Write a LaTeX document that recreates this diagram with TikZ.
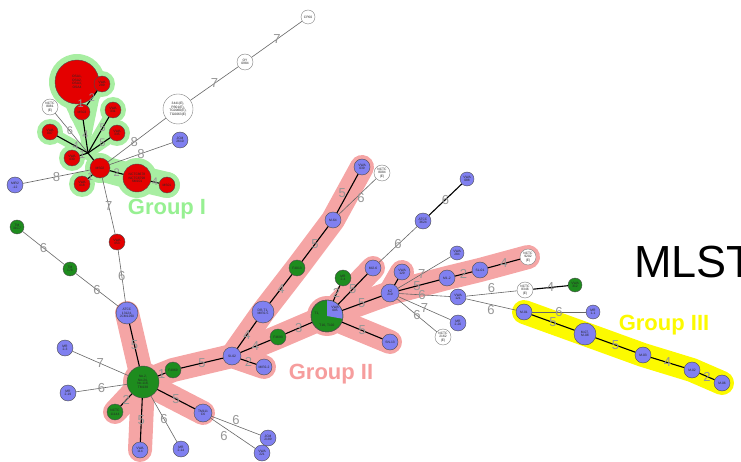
\documentclass[tikz,border=0pt]{standalone}
\usepackage{fontspec}
\setmainfont{Liberation Sans}
\definecolor{nred}{RGB}{228,0,0}
\definecolor{ngreen}{RGB}{30,140,30}
\definecolor{nblue}{RGB}{128,128,240}
\definecolor{hlgreen}{RGB}{168,238,162}
\definecolor{hlpink}{RGB}{245,165,165}
\definecolor{hlyellow}{RGB}{252,250,0}
\definecolor{lblgray}{RGB}{150,150,150}
\pgfdeclarelayer{hl}
\pgfsetlayers{hl,main}
\tikzset{
  nd/.style={circle, draw=black!70, line width=0.4pt, inner sep=0pt, minimum size=16pt,
    align=center, font=\fontsize{3.3}{3.7}\selectfont, text=black!85},
  rn/.style={nd, fill=nred},
  gn/.style={nd, fill=ngreen},
  bn/.style={nd, fill=nblue},
  wn/.style={nd, fill=white, draw=black!50},
  ethick/.style={draw=black, line width=1.1pt},
  ethin/.style={draw=black!60, line width=0.6pt},
  lbl/.style={font=\fontsize{13}{13}\selectfont, text=lblgray, inner sep=0.5pt},
  slbl/.style={lbl, font=\fontsize{11}{11}\selectfont},
  pinkband/.style={draw=hlpink, line width=24pt, line cap=round, line join=round},
  greenband/.style={draw=hlgreen, line width=11pt, line cap=round, line join=round},
  yellowband/.style={draw=hlyellow, line width=24pt, line cap=round, line join=round},
  grplbl/.style={font=\fontsize{22}{22}\selectfont\bfseries, inner sep=0pt},
  ptxt/.style={inner sep=0pt, align=center, font=\fontsize{3.3}{3.7}\selectfont, text=black!85}
}
\begin{document}
\begin{tikzpicture}[x=1pt,y=-1pt]
\useasboundingbox (0,0) rectangle (741,462);

% ---- Group I cluster
\node[rn, minimum size=44pt] (osa) at (77,82) {OSA1,\\OSA2,\\OSA3,\\OSA4};
\node[rn] (v289) at (102,84) {VWA\\289};
\node[rn] (ms03) at (82,112) {MS03};
\node[wn] (nw1) at (50,107) {NCTC\\8081\\(E)};
\node[rn] (v331) at (113,110) {VWA\\331};
\node[rn] (v007) at (50,132) {VWA\\007};
\node[rn] (v335) at (117,133) {VWA\\335};
\node[rn] (v430) at (72,158) {VWA\\430};
\coordinate (hub) at (88,153);
\node[rn, minimum size=20pt] (cen) at (100,168) {MS02};
\node[rn] (v418) at (82,184) {VWA\\418};
\node[rn, minimum size=28pt] (bigred) at (137,178) {NCTC8678\\NCTC8798\\SM101};
\node[rn] (sred) at (167,185) {MS01};
\node[bn] (mir212) at (15,185) {MIR2\\-12};
\node[bn] (jcm2610) at (180,140) {JCM\\2610};
\node[wn, minimum size=30pt] (w3441) at (178,109) {3441(E),\\PB01(E),\\TG0060(E),\\TG0063(E)};
\node[wn] (oy) at (245,62) {OY\\0984};
\node[wn, minimum size=14pt] (cp60) at (308,17) {CP60};
\node[rn] (v453) at (117,242) {VWA\\453};

% ---- Group II and left branches
\node[gn, minimum size=14pt] (tm31) at (17,227) {TM\\31C7};
\node[gn, minimum size=14pt] (tm178) at (70,269) {TM\\178};
\node[bn, minimum size=22pt] (atcc) at (127,313) {ATCC\\13124,\\JCM1290};
\node[bn] (mr23) at (65,348) {MR\\2-3};
\node[gn, minimum size=32pt] (bg) at (143,382) {No.2,\\No.24,\\No.118,\\TM138};
\node[bn] (mr219) at (68,393) {MR\\2-19};
\node[gn] (n11144) at (115,412) {NCTC\\11144};
\node[bn] (v114) at (140,450) {VWA\\114};
\node[bn] (mr214) at (181,449) {MR\\2-14};
\node[bn, minimum size=18pt] (tm111) at (203,413) {TM111\\C6};
\node[gn] (f4969) at (173,370) {F4969};
\node[bn, minimum size=18pt] (si02) at (232,356) {SI-02};
\node[bn] (mir22) at (264,367) {MIR2-2};
\node[bn, minimum size=22pt] (drt1) at (263,312) {DR-T1,\\MIR2-5};
\node[gn] (f4013) at (297,268) {F4013};
\node[gn] (f4693) at (278,337) {F4693};
\node[gn, minimum size=32pt] (pie) at (327,316) {};
\fill[nblue] (pie.center) -- ++(10:15.8) arc[start angle=10, end angle=-90, radius=15.8] -- cycle;
\draw[black!70, line width=0.4pt] (pie.center) circle[radius=16];
\node[ptxt] (pieA) at (317,314) {T1,};
\node[ptxt] (pieB) at (335,309) {VWA\\005};
\node[ptxt] (pieC) at (327,326) {T16, T102};
\node[gn] (mr24) at (343,278) {MR\\2-4};
\node[bn] (jcm2189) at (268,438) {JCM\\2189};
\node[bn] (v221) at (262,453) {VWA\\221};
\node[bn] (v039) at (362,167) {VWA\\039};
\node[wn] (nw2) at (382,173) {NCTC\\8084\\(E)};
\node[bn] (m64) at (333,220) {M-64};
\node[bn] (atcc3624) at (423,221) {ATCC\\3624};
\node[bn, minimum size=14pt] (v088) at (467,179) {VWA\\088};
\node[bn] (mi26) at (373,268) {MI2-6};
\node[bn] (v129) at (402,272) {VWA\\129};
\node[bn, minimum size=18pt] (kz) at (390,293) {KZ\\219};
\node[bn] (sn13) at (390,342) {SN-13};
\node[bn, minimum size=14pt] (v284) at (457,253) {VWA\\284};
\node[bn] (m12) at (447,278) {M1-2};
\node[bn] (sl01) at (480,270) {SL-01};
\node[wn] (nw3) at (528,257) {NCTC\\9202\\(E)};
\node[bn] (v121) at (458,297) {VWA\\121};
\node[wn] (nw4) at (525,290) {NCTC\\8346\\(E)};
\node[gn, minimum size=14pt] (v312) at (575,285) {VWA\\312};
\node[bn] (mr220) at (458,323) {MR\\2-20};
\node[wn] (nw5) at (443,337) {NCTC\\2162\\(E)};

% ---- Group III
\node[bn] (m01) at (524,312) {M-01};
\node[bn, minimum size=14pt] (mr11) at (593,312) {MR\\1-1};
\node[bn, minimum size=22pt] (m07) at (585,334) {M-07,\\M-08};
\node[bn] (m03) at (643,355) {M-03};
\node[bn] (m02) at (692,370) {M-02};
\node[bn] (m06) at (722,383) {M-06};

% ---- group highlights
\begin{pgfonlayer}{hl}
  \draw[greenband] (hub) -- (ms03.center) -- (osa.center);
  \draw[greenband] (ms03.center) -- (v289.center);
  \draw[greenband] (hub) -- (v331.center);
  \draw[greenband] (hub) -- (v335.center);
  \draw[greenband] (hub) -- (v007.center);
  \draw[greenband] (hub) -- (v430.center);
  \draw[greenband] (hub) -- (cen.center) -- (v418.center);
  \draw[greenband, line width=26pt] (cen.center) -- (bigred.center) -- (sred.center);
  \fill[hlgreen] (osa.center) circle[radius=28];
  \fill[hlgreen] (hub) -- (60,95) -- (100,95) -- cycle;
  \foreach \n in {v289,ms03,v331,v335,v007,v430,v418,sred}
    \fill[hlgreen] (\n.center) circle[radius=13];
  \fill[hlgreen] (cen.center) circle[radius=15];
  \fill[hlgreen] (bigred.center) circle[radius=20];

  \draw[pinkband] (atcc.center) -- (bg.center) -- (v114.center);
  \draw[pinkband] (bg.center) -- (n11144.center);
  \draw[pinkband] (bg.center) -- (tm111.center);
  \draw[pinkband] (bg.center) -- (f4969.center) -- (si02.center) -- (mir22.center);
  \draw[pinkband] (si02.center) -- (drt1.center) -- (f4013.center) -- (m64.center) -- (v039.center);
  \draw[pinkband] (si02.center) -- (f4693.center) -- (pie.center) -- (kz.center) -- (m12.center) -- (sl01.center) -- (nw3.center);
  \draw[pinkband] (pie.center) -- (mi26.center);
  \draw[pinkband] (pie.center) -- (sn13.center);
  \draw[pinkband] (kz.center) -- (v129.center);
  \fill[hlpink] (bg.center) circle[radius=20];
  \fill[hlpink] (pie.center) circle[radius=20];

  \draw[yellowband] (m01.center) -- (m07.center) -- (m03.center) -- (m02.center) -- (m06.center);
\end{pgfonlayer}

% ---- Group I connectors
\draw[ethick] (osa) -- node[slbl, pos=0.4] {1} (ms03);
\draw[ethick] (v289) -- node[slbl] {2} (ms03);
\draw[ethick] (ms03) -- node[slbl, pos=0.45] {4} (hub);
\draw[ethin] (nw1) -- node[slbl, pos=0.45] {6} (hub);
\draw[ethick] (v007) -- node[slbl, pos=0.6] {4} (hub);
\draw[ethick] (v331) -- node[slbl, pos=0.3] {5} (hub);
\draw[ethick] (v335) -- node[slbl, pos=0.35] {5} (hub);
\draw[ethick] (v430) -- node[slbl, pos=0.3] {1} (hub);
\draw[ethick] (hub) -- (cen);
\draw[ethick] (cen) -- node[slbl] {1} (v418);
\draw[ethick] (cen) -- node[slbl] {2} (bigred);
\draw[ethick] (bigred) -- node[slbl] {4} (sred);
\draw[ethin] (cen) -- node[lbl] {8} (mir212);
\draw[ethin] (cen) -- node[lbl] {8} (jcm2610);
\draw[ethin] (cen) -- node[lbl, pos=0.45] {8} (w3441);
\draw[ethin] (w3441) -- node[lbl] {7} (oy);
\draw[ethin] (oy) -- node[lbl] {7} (cp60);
\draw[ethin] (cen) -- node[lbl] {7} (v453);

% ---- Group II connectors
\draw[ethin] (v453) -- node[lbl] {6} (atcc);
\draw[ethin] (tm31) -- node[lbl] {6} (tm178);
\draw[ethin] (tm178) -- node[lbl] {6} (atcc);
\draw[ethick] (atcc) -- node[lbl] {5} (bg);
\draw[ethin] (mr23) -- node[lbl] {7} (bg);
\draw[ethin] (mr219) -- node[lbl] {6} (bg);
\draw[ethick] (n11144) -- node[lbl] {2} (bg);
\draw[ethick] (v114) -- node[lbl] {5} (bg);
\draw[ethin] (mr214) -- node[lbl] {6} (bg);
\draw[ethick] (tm111) -- node[lbl] {5} (bg);
\draw[ethick] (f4969) -- node[lbl] {1} (bg);
\draw[ethick] (f4969) -- node[lbl] {5} (si02);
\draw[ethin] (tm111) -- node[lbl, pos=0.5, above=0.5pt] {6} (jcm2189);
\draw[ethin] (tm111) -- node[lbl, pos=0.4, below left=0pt] {6} (v221);
\draw[ethick] (si02) -- node[lbl] {2} (mir22);
\draw[ethick] (si02) -- node[lbl] {4} (drt1);
\draw[ethick] (drt1) -- node[lbl] {4} (f4013);
\draw[ethick] (f4013) -- node[lbl] {5} (m64);
\draw[ethick] (m64) -- node[lbl, pos=0.5, left=0.5pt] {5} (v039);
\draw[ethin] (m64) -- node[lbl, pos=0.45, right=1pt] {6} (nw2);
\draw[ethick] (si02) -- node[lbl] {4} (f4693);
\draw[ethick] (f4693) -- node[lbl] {3} (pie);
\draw[ethick] (pie) -- node[lbl] {2} (mr24);
\draw[ethick] (pie) -- node[lbl] {5} (mi26);
\draw[ethick] (pie) -- node[lbl] {5} (kz);
\draw[ethick] (pie) -- node[lbl] {5} (sn13);
\draw[ethin] (mi26) -- node[lbl] {6} (atcc3624);
\draw[ethick] (atcc3624) -- node[lbl] {6} (v088);
\draw[ethick] (kz) -- (v129);
\draw[ethin] (kz) -- node[lbl, pos=0.45] {7} (v284);
\draw[ethick] (kz) -- node[lbl, pos=0.45] {5} (m12);
\draw[ethin] (kz) -- node[lbl, pos=0.45] {6} (v121);
\draw[ethin] (kz) -- node[lbl, pos=0.5] {7} (mr220);
\draw[ethin] (kz) -- node[lbl, pos=0.5] {6} (nw5);
\draw[ethick] (m12) -- node[lbl] {2} (sl01);
\draw[ethick] (sl01) -- node[lbl] {4} (nw3);
\draw[ethin] (v121) -- node[lbl, pos=0.5, above=0pt] {6} (nw4);
\draw[ethick] (nw4) -- node[lbl] {4} (v312);
\draw[ethin] (v121) -- node[lbl, pos=0.5, below=0pt] {6} (m01);

% ---- Group III connectors
\draw[ethin] (m01) -- node[lbl] {6} (mr11);
\draw[ethick] (m01) -- node[lbl] {5} (m07);
\draw[ethick] (m07) -- node[lbl] {5} (m03);
\draw[ethick] (m03) -- node[lbl] {4} (m02);
\draw[ethick] (m02) -- node[lbl] {2} (m06);

% ---- captions
\node[grplbl, text=hlgreen!90!green] (g1) at (167,209) {Group I};
\node[grplbl, text=hlpink!95!red] (g2) at (331,374) {Group II};
\node[grplbl, text=hlyellow] (g3) at (664,325) {Group III};
\node[anchor=base west, inner sep=0pt, font=\fontsize{45}{45}\selectfont] (mlst) at (634,277) {MLST};
\end{tikzpicture}
\end{document}
